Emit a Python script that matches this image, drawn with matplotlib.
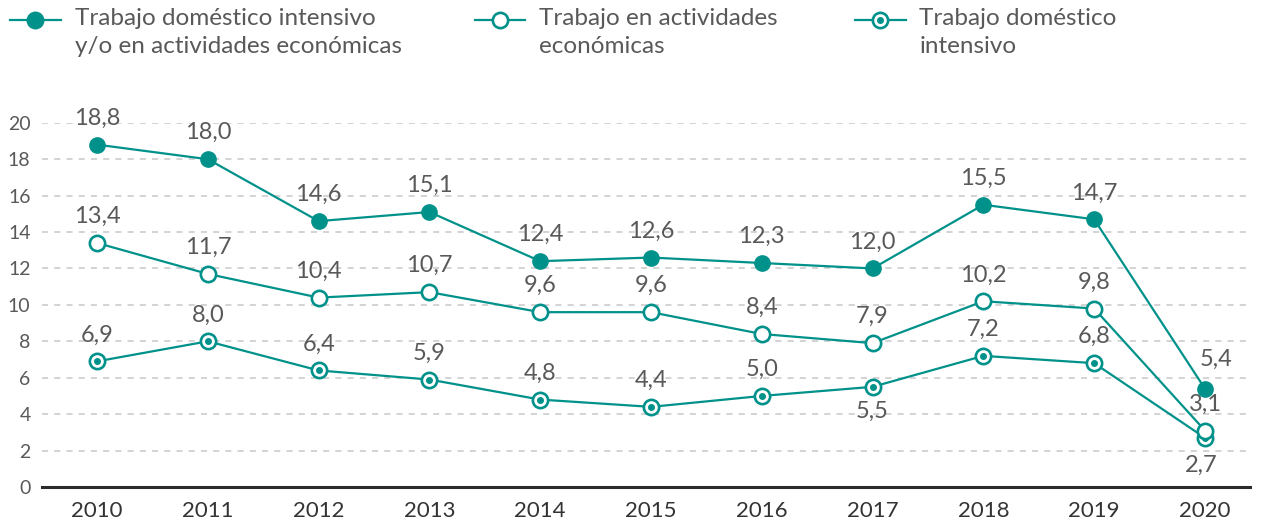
import matplotlib.pyplot as plt
from matplotlib.lines import Line2D

plt.rcParams['font.family'] = ['Lato', 'DejaVu Sans']

years = [2010, 2011, 2012, 2013, 2014, 2015, 2016, 2017, 2018, 2019, 2020]
total = [18.8, 18.0, 14.6, 15.1, 12.4, 12.6, 12.3, 12.0, 15.5, 14.7, 5.4]
economicas = [13.4, 11.7, 10.4, 10.7, 9.6, 9.6, 8.4, 7.9, 10.2, 9.8, 3.1]
domestico = [6.9, 8.0, 6.4, 5.9, 4.8, 4.4, 5.0, 5.5, 7.2, 6.8, 2.7]

legend_labels = ['Trabajo doméstico intensivo\ny/o en actividades económicas',
                 'Trabajo en actividades\neconómicas',
                 'Trabajo doméstico\nintensivo']

teal = '#00928a'
grey = '#595959'

fig = plt.figure(figsize=(12.63, 5.21), dpi=100)
ax = fig.add_axes([0.033, 0.0653, 0.957, 0.699])

ax.plot(years, domestico, color=teal, lw=1.6, marker='o', ms=11,
        mfc='white', mec=teal, mew=1.9, zorder=3)
ax.plot(years, domestico, ls='none', marker='o', ms=4, color=teal, zorder=4)
ax.plot(years, economicas, color=teal, lw=1.6, marker='o', ms=11,
        mfc='white', mec=teal, mew=1.9, zorder=5)
ax.plot(years, total, color=teal, lw=1.6, marker='o', ms=11,
        mfc=teal, mec=teal, zorder=6)

def fmt(v):
    return f'{v:.1f}'.replace('.', ',')

def label(x, y, dx=0, dy=19):
    ax.annotate(fmt(y), (x, y), xytext=(dx, dy), textcoords='offset points',
                ha='center', va='center', fontsize=17, color=grey,
                annotation_clip=False)

for x, y in zip(years, total):
    if x == 2020:
        label(x, y, 8, 21)
    else:
        label(x, y)
for x, y in zip(years, economicas):
    label(x, y)
for x, y in zip(years, domestico):
    if x == 2017:
        label(x, y, 0, -18)
    elif x == 2020:
        label(x, y, -3, -20)
    else:
        label(x, y)

ax.set_xlim(2009.5, 2020.41)
ax.set_ylim(0, 20)
ax.set_yticks(range(0, 21, 2))
ax.set_xticks(years)
ax.yaxis.grid(True, ls=(0, (4, 4)), color='#c8c8c8', lw=1.1)
ax.set_axisbelow(True)
for s in ['top', 'right', 'left']:
    ax.spines[s].set_visible(False)
ax.spines['bottom'].set_linewidth(2.2)
ax.spines['bottom'].set_color('#2b2b2b')
ax.tick_params(axis='y', length=0, labelsize=14, labelcolor=grey, pad=8)
ax.tick_params(axis='x', length=0, labelsize=16, labelcolor='#333333', pad=10)

# leyenda superior
handles = [dict(mfc=teal, dot=False), dict(mfc='white', dot=False), dict(mfc='white', dot=True)]
starts = [0.008, 0.376, 0.677]
for x0, h, txt in zip(starts, handles, legend_labels):
    y0 = 0.962
    fig.add_artist(Line2D([x0, x0 + 0.040], [y0, y0], transform=fig.transFigure,
                          color=teal, lw=1.6))
    fig.add_artist(Line2D([x0 + 0.020], [y0], transform=fig.transFigure,
                          marker='o', ms=11, mfc=h['mfc'], mec=teal, mew=1.9))
    if h['dot']:
        fig.add_artist(Line2D([x0 + 0.020], [y0], transform=fig.transFigure,
                              marker='o', ms=4, color=teal))
    fig.text(x0 + 0.051, 0.985, txt, ha='left', va='top', fontsize=17.5,
             color=grey, linespacing=1.4)

fig.savefig('out.png', dpi=100)
